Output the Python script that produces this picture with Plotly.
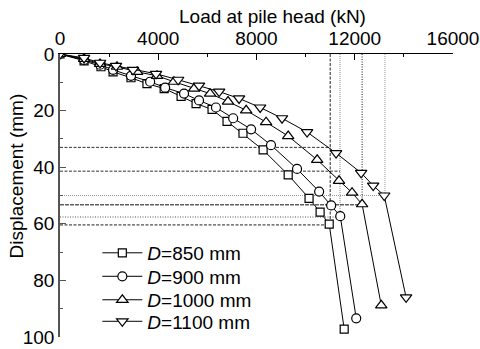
import plotly.graph_objects as go

# Data
load_850 = [0, 980, 1670, 2160, 2890, 3540, 4240, 4930, 5540, 6190, 6800, 7450, 8270, 9290, 10140, 10590, 10960, 11570]
disp_850 = [0, 2.4, 4.5, 6.3, 8.4, 10.5, 12.2, 15.0, 17.5, 19.6, 23.8, 28.0, 33.9, 42.7, 51.0, 55.9, 60.1, 97.2]

load_900 = [0, 980, 1630, 2160, 2890, 3670, 4280, 5050, 5660, 6350, 7050, 7780, 8590, 9650, 10550, 11040, 11410, 12060]
disp_900 = [0, 2.1, 3.8, 5.6, 7.7, 9.8, 11.9, 14.0, 16.4, 18.9, 22.7, 26.6, 32.2, 40.6, 48.6, 53.5, 57.3, 93.4]

load_1000 = [0, 980, 1630, 2320, 3140, 3950, 4640, 5460, 6110, 6840, 7580, 8390, 9290, 10470, 11360, 11890, 12300, 13080]
disp_1000 = [0, 1.7, 3.5, 4.5, 6.3, 7.7, 9.8, 12.2, 14.0, 16.8, 19.9, 24.1, 29.0, 37.4, 44.8, 49.0, 53.1, 88.8]

load_1100 = [0, 980, 1630, 2280, 2970, 3910, 4810, 5660, 6480, 7290, 8150, 9040, 10060, 11240, 12260, 12750, 13200, 14090]
disp_1100 = [0, 1.4, 3.1, 4.2, 5.6, 7.0, 9.1, 11.2, 13.3, 15.7, 18.9, 22.7, 27.6, 35.0, 42.0, 46.5, 50.0, 86.0]

series_names = ["<i>D</i>=850 mm", "<i>D</i>=900 mm", "<i>D</i>=1000 mm", "<i>D</i>=1100 mm"]

x_ticks = [0, 4000, 8000, 12000, 16000]
x_ticklabels = ["0", "4000", "8000", "12000", "16000"]
y_ticks = [0, 20, 40, 60, 80, 100]
y_ticklabels = ["0", "20", "40", "60", "80", "100"]

x_title = "Load at pile head (kN)"
y_title = "Displacement (mm)"

# Reference (guide) lines
vline_load = [11000, 11400, 12300, 13230]
vline_disp = [60.2, 57.5, 53.2, 50.0]
hline_disp = [33.0, 41.4, 50.0, 53.3, 57.6, 60.4]
hline_load = [11000, 11400, 13230, 12300, 11400, 11000]

FONT = "Liberation Sans, Arial, sans-serif"

fig = go.Figure()

v_styles = [("#222222", "3px,1.5px"), ("#888888", "1px,1px"), ("#111111", "1px,1.5px"), ("#999999", "1px,1px")]
h_styles = [("#333333", "3px,1.5px"), ("#333333", "3px,1.5px"), ("#999999", "1px,1px"),
            ("#111111", "4px,1px"), ("#555555", "1px,1.5px"), ("#222222", "3px,1.5px")]

for (c, d), xl, yl in zip(v_styles, vline_load, vline_disp):
    fig.add_trace(go.Scatter(x=[xl, xl], y=[0, yl], mode="lines",
                             line=dict(color=c, width=1, dash=d),
                             showlegend=False, hoverinfo="skip"))
for (c, d), yl, xl in zip(h_styles, hline_disp, hline_load):
    fig.add_trace(go.Scatter(x=[0, xl], y=[yl, yl], mode="lines",
                             line=dict(color=c, width=1, dash=d),
                             showlegend=False, hoverinfo="skip"))

series = [(load_850, disp_850, "square", 8),
          (load_900, disp_900, "circle", 9),
          (load_1000, disp_1000, "triangle-up", 10),
          (load_1100, disp_1100, "triangle-down", 10)]
legend_ids = ["legend", "legend2", "legend3", "legend4"]
legend_rows = [0.297, 0.214, 0.131, 0.055]

for (xs, ys, sym, sz), name, lid in zip(series, series_names, legend_ids):
    fig.add_trace(go.Scatter(x=xs, y=ys, mode="lines+markers", name=name, legend=lid,
                             line=dict(color="black", width=1),
                             marker=dict(symbol=sym, size=sz, color="white",
                                         line=dict(color="black", width=1.2))))

legend_common = dict(x=0.095, xanchor="left", yanchor="middle",
                     bgcolor="rgba(0,0,0,0)", font=dict(size=19, family=FONT),
                     itemwidth=40)

fig.update_layout(
    width=480, height=349,
    margin=dict(l=60, r=27, t=54, b=9),
    paper_bgcolor="white", plot_bgcolor="white",
    font=dict(family=FONT, size=19, color="black"),
    showlegend=True,
    legend=dict(y=legend_rows[0], **legend_common),
    legend2=dict(y=legend_rows[1], **legend_common),
    legend3=dict(y=legend_rows[2], **legend_common),
    legend4=dict(y=legend_rows[3], **legend_common),
    xaxis=dict(side="top", range=[0, 16000], tickvals=x_ticks, ticktext=x_ticklabels,
               ticks="inside", ticklen=6, tickcolor="black", showline=True,
               linecolor="black", linewidth=1, showgrid=False, zeroline=False,
               automargin=False,
               minor=dict(tickvals=[2000, 6000, 10000, 14000], ticks="inside", ticklen=3, tickcolor="black"),
               tickfont=dict(size=19)),
    yaxis=dict(range=[100, 0], tickvals=y_ticks, ticktext=y_ticklabels,
               ticks="inside", ticklen=6, tickcolor="#555555", showline=True,
               linecolor="#555555", linewidth=1.5, showgrid=False, zeroline=False,
               automargin=False,
               minor=dict(tickvals=[10, 30, 50, 70, 90], ticks="inside", ticklen=3, tickcolor="#555555"),
               tickfont=dict(size=19)),
    annotations=[
        dict(text=x_title, xref="paper", yref="paper", x=0.541, y=1.132,
             xanchor="center", yanchor="middle", showarrow=False, font=dict(size=19)),
        dict(text=y_title, xref="paper", yref="paper",
             x=-0.11, y=0.57, xanchor="center", yanchor="middle",
             textangle=-90, showarrow=False, font=dict(size=19))],
)

fig.write_html("out.html", config={"displayModeBar": False},
               post_script="document.body.style.margin='0';")
